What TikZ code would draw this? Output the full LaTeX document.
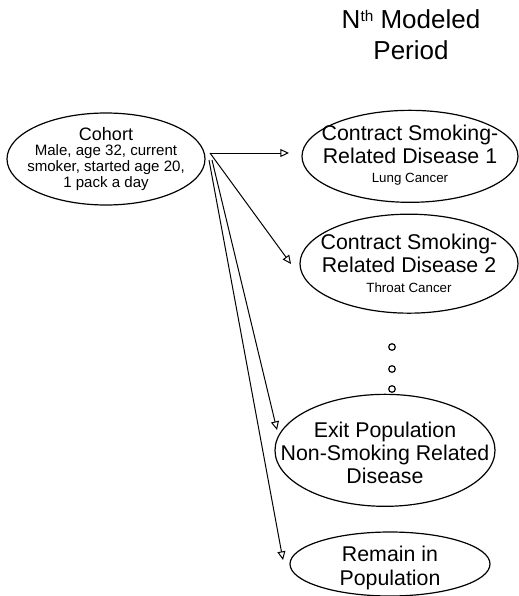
\documentclass[tikz,border=0pt]{standalone}
\usepackage{fontspec}
\setmainfont{Liberation Sans}
\usetikzlibrary{shapes.geometric,arrows.meta}

\tikzset{every picture/.style={line width=0.9pt}}

\begin{document}
\begin{tikzpicture}[x=0.75pt,y=0.75pt,yscale=-1,xscale=1,
  oval/.style={inner sep=0pt,align=center,font=\fontsize{16}{17.5}\selectfont},
  flow/.style={-{Triangle[open,length=6.5pt,width=6pt]},line width=0.75pt}]
\useasboundingbox (0,0) rectangle (518,596);

% Text Node
\node (title) at (411,35) [align=center,font=\fontsize{19.5}{23}\selectfont]
  {N\raisebox{5.5pt}{\fontsize{11.5}{11.5}\selectfont th} Modeled\\Period};

% Text Node [cohort]
\node (cohort) at (106,159) [oval,font=\fontsize{11.3}{12}\selectfont]
  {{\fontsize{13.5}{15}\selectfont Cohort}\\[-1pt]
   Male, age 32, current\\ smoker, started age 20,\\ 1 pack a day};
% Text Node [disease 1]
\node (dis1) at (410,155) [oval]
  {Contract Smoking-\\ Related Disease 1\\[-3pt]
   {\fontsize{10}{11}\selectfont Lung Cancer}};
% Text Node [disease 2]
\node (dis2) at (409,263) [oval]
  {Contract Smoking-\\ Related Disease 2\\[-3pt]
   {\fontsize{10}{11}\selectfont Throat Cancer}};
% Text Node [exit]
\node (exitpop) at (385,453) [oval]
  {Exit Population\\ Non-Smoking Related\\ Disease};
% Text Node [remain]
\node (remain) at (390,568) [oval]
  {Remain in\\ Population};

%Shape: Ellipse
\draw (cohort.center) ellipse [x radius=99, y radius=46];
\draw ([yshift=1]dis1.center) ellipse [x radius=108, y radius=46];
\draw ([yshift=0.5]dis2.center) ellipse [x radius=109, y radius=49.5];
\draw ([yshift=-2]exitpop.center) ellipse [x radius=110, y radius=56];
\draw ([yshift=-3]remain.center) ellipse [x radius=100, y radius=32];

% dots
\foreach \y in {347,369,389}
  \draw (392,\y) circle (3.3);

% arrow ends
\coordinate (fork) at (210,153);
\coordinate (forkex) at (212,160);
\coordinate (forkre) at (209,160);
\coordinate (tipd1) at (289,153);
\coordinate (tipd2) at (291,264);
\coordinate (tipex) at (277,430);
\coordinate (tipre) at (283,560);

\draw [flow] (fork) -- (tipd1);
\draw [flow] (fork) -- (tipd2);
\draw [flow] (forkex) -- (tipex);
\draw [flow] (forkre) -- (tipre);

\end{tikzpicture}
\end{document}
